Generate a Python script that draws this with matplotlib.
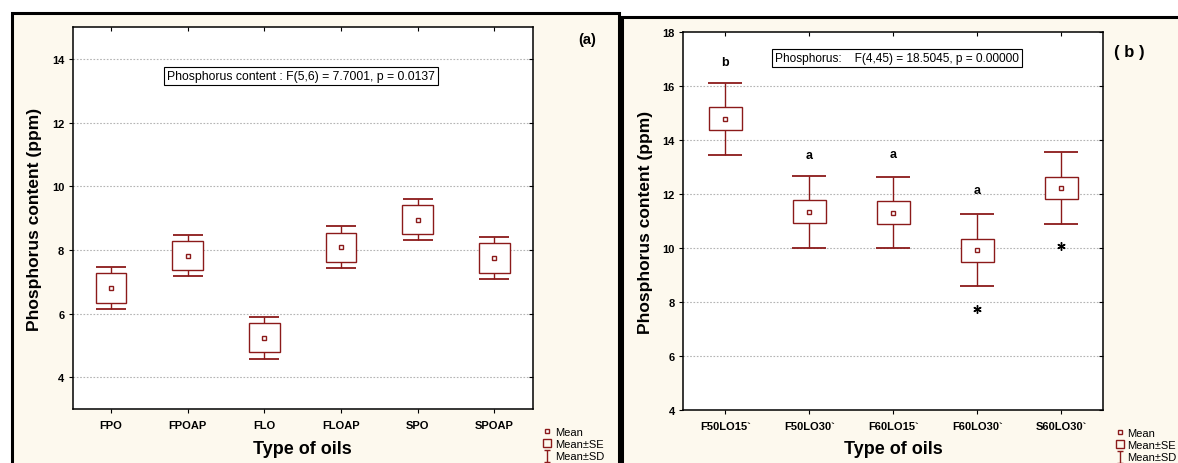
import matplotlib.pyplot as plt
from matplotlib.lines import Line2D
from matplotlib.patches import Rectangle
from matplotlib.path import Path

plt.rcParams['font.family'] = ['Liberation Sans', 'DejaVu Sans']

# panel (a)
oils_a = ['FPO', 'FPOAP', 'FLO', 'FLOAP', 'SPO', 'SPOAP']
mean_a = [6.81, 7.83, 5.25, 8.09, 8.96, 7.76]
se_a = [0.46, 0.46, 0.465, 0.46, 0.455, 0.465]
sd_a = [0.655, 0.64, 0.655, 0.665, 0.645, 0.655]
yticks_a = [4, 6, 8, 10, 12, 14]
stat_a = 'Phosphorus content : F(5,6) = 7.7001, p = 0.0137'

# panel (b)
oils_b = ['F50LO15`', 'F50LO30`', 'F60LO15`', 'F60LO30`', 'S60LO30`']
mean_b = [14.8, 11.35, 11.32, 9.92, 12.23]
se_b = [0.42, 0.42, 0.42, 0.42, 0.42]
sd_b = [1.33, 1.33, 1.33, 1.33, 1.33]
yticks_b = [4, 6, 8, 10, 12, 14, 16, 18]
letters_b = ['b', 'a', 'a', 'a']
letter_y_b = [16.9, 13.45, 13.5, 12.15]
outlier_x_b = [3, 4]
outlier_y_b = [7.76, 10.09]
stat_b = 'Phosphorus:    F(4,45) = 18.5045, p = 0.00000'

RED = '#8b1a1a'
CREAM = '#fdf9ee'
W, H = 1178, 464

fig = plt.figure(figsize=(W / 100, H / 100), dpi=100)
fig.patch.set_facecolor('white')

# panel frames (pixel layout)
fig.add_artist(Rectangle((11.7 / W, -0.1), (619 - 11.7) / W, 1.1 - 14 / H,
                         transform=fig.transFigure, fc=CREAM, ec='black',
                         lw=2.2, zorder=-2))
fig.add_artist(Rectangle((622 / W, -0.1), 0.5, 1.1 - 18 / H,
                         transform=fig.transFigure, fc=CREAM, ec='black',
                         lw=2.2, zorder=-2))

ax_a = fig.add_axes([72.7 / W, 1 - 410.3 / H, 460 / W, 382 / H])
ax_b = fig.add_axes([683.3 / W, 1 - 411 / H, 420 / W, 377.7 / H])

# I-beam marker for the SD legend entry
ibeam = Path([(-0.6, 1), (0.6, 1), (0, 1), (0, -1), (-0.6, -1), (0.6, -1)],
             [Path.MOVETO, Path.LINETO, Path.MOVETO, Path.LINETO,
              Path.MOVETO, Path.LINETO])


def draw_panel(ax, names, mean, se, sd, ylim, yticks, capsize):
    x = list(range(len(names)))
    ax.errorbar(x, mean, yerr=sd, fmt='none', ecolor=RED, elinewidth=1.0,
                capsize=capsize, capthick=1.3, zorder=2)
    lows = [m - s for m, s in zip(mean, se)]
    ax.bar(x, [2 * s for s in se], bottom=lows, width=0.4, color='white',
           edgecolor=RED, linewidth=1.0, zorder=3)
    ax.plot(x, mean, ls='none', marker='s', ms=3.3, mfc='white', mec=RED,
            mew=1.0, zorder=4)
    ax.set_xlim(-0.5, len(names) - 0.5)
    ax.set_ylim(*ylim)
    ax.set_xticks(x)
    ax.set_xticklabels(names, fontsize=8, fontweight='bold')
    ax.set_yticks(yticks)
    ax.set_yticklabels([str(t) for t in yticks], fontsize=8, fontweight='bold')
    ax.tick_params(axis='both', direction='out', length=3, width=0.8,
                   colors='black')
    ax.tick_params(axis='x', pad=5)
    ax.tick_params(axis='y', pad=3)
    ax.tick_params(top=True, right=True, which='both')
    for t in ax.xaxis.get_major_ticks():
        t.tick2line.set_marker(3)
    for t in ax.yaxis.get_major_ticks():
        t.tick2line.set_marker(0)
    for s in ax.spines.values():
        s.set_linewidth(1.1)
    grid_y = [t for t in yticks if ylim[0] < t < ylim[1]]
    for g in grid_y:
        ax.axhline(g, color='#b4b4b4', lw=0.8, ls=(0, (1.5, 1.5)), zorder=1)
    ax.set_xlabel('Type of oils', fontsize=13, fontweight='bold')
    ax.set_ylabel('Phosphorus content (ppm)', fontsize=12.5,
                  fontweight='bold')
    ax.xaxis.label.set_va('center')
    ax.yaxis.label.set_va('center')

    handles = [
        Line2D([], [], ls='none', marker='s', ms=3.3, mfc='white', mec=RED,
               mew=1.0),
        Line2D([], [], ls='none', marker='s', ms=6.3, mfc='none', mec=RED,
               mew=1.0),
        Line2D([], [], ls='none', marker=ibeam, ms=8, mec=RED, mew=1.0),
    ]
    return handles


def add_legend(ax, handles, x_px, y_px):
    ax.legend(handles, ['Mean', 'Mean±SE', 'Mean±SD'], loc='upper left',
              bbox_to_anchor=(x_px / W, 1 - y_px / H),
              bbox_transform=fig.transFigure, frameon=False, fontsize=8,
              borderpad=0, handlelength=0.9, handletextpad=0.25,
              labelspacing=0.2, borderaxespad=0)


h = draw_panel(ax_a, oils_a, mean_a, se_a, sd_a, (3, 15), yticks_a, 10.8)
ax_a.xaxis.set_label_coords(0.5, -0.1026)
ax_a.yaxis.set_label_coords(-0.082, 0.5)
ax_a.text(2.48, 13.47, stat_a, ha='center', va='center', fontsize=8.8,
          bbox=dict(boxstyle='square,pad=0.25', fc='white', ec='black',
                    lw=0.8), zorder=5)
add_legend(ax_a, h, 542, 428)

h = draw_panel(ax_b, oils_b, mean_b, se_b, sd_b, (4, 18), yticks_b, 12)
ax_b.xaxis.set_label_coords(0.5, -0.103)
ax_b.yaxis.set_label_coords(-0.091, 0.5)
for i, (lt, ly) in enumerate(zip(letters_b, letter_y_b)):
    ax_b.text(i, ly, lt, ha='center', va='center', fontsize=9,
              fontweight='bold')
ax_b.plot(outlier_x_b, outlier_y_b, ls='none', marker=(6, 2, 0), ms=6,
          mec='black', mew=1.0, zorder=4)
ax_b.text(2.04, 17.04, stat_b, ha='center', va='center', fontsize=8.6,
          bbox=dict(boxstyle='square,pad=0.25', fc='white', ec='black',
                    lw=0.8), zorder=5)
add_legend(ax_b, h, 1114.5, 429)

fig.text(587 / W, 1 - 40 / H, '(a)', ha='center', va='center', fontsize=10.5,
         fontweight='bold')
fig.text(1129 / W, 1 - 53 / H, '( b )', ha='center', va='center', fontsize=12,
         fontweight='bold')

fig.savefig('out.png', dpi=100)
